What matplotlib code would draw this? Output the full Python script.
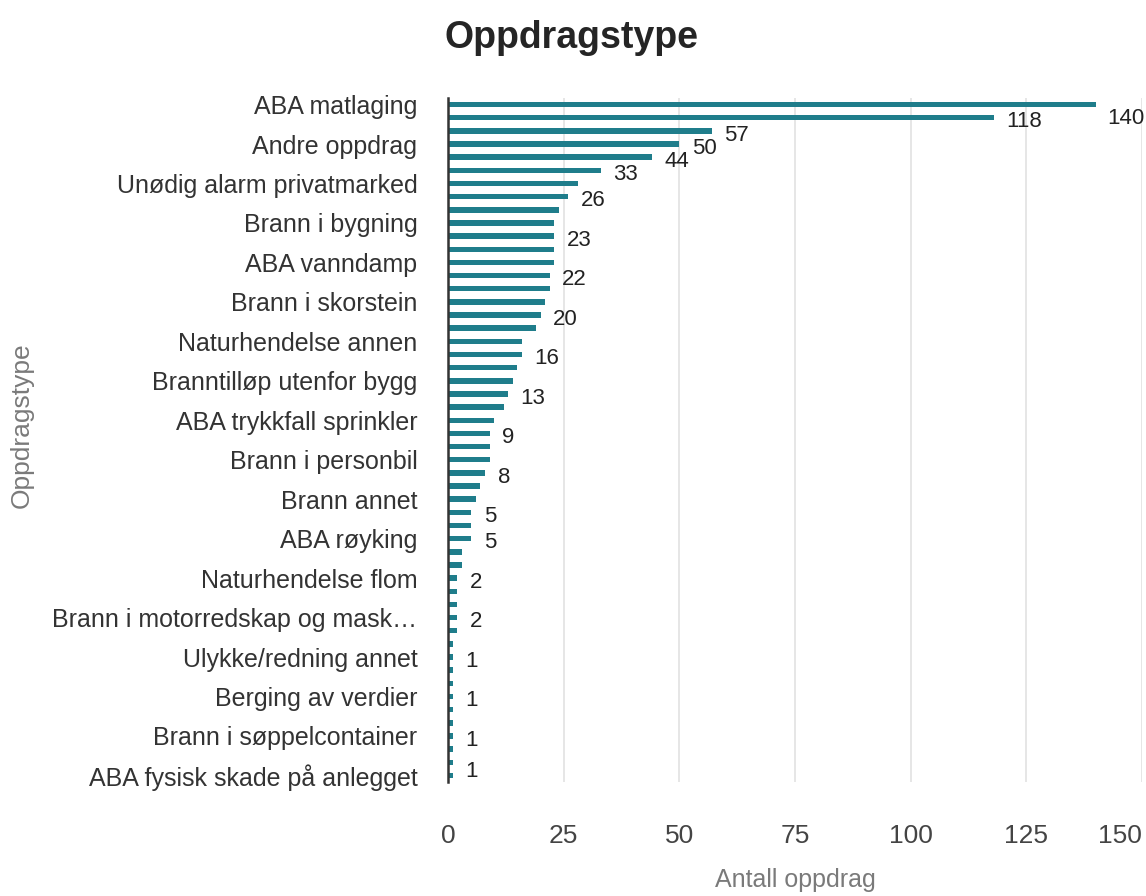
import numpy as np
import matplotlib.pyplot as plt

plt.rcParams['font.family'] = ['Liberation Sans', 'DejaVu Sans']

# antall oppdrag per type (sortert), bare hver tredje kategori har synlig navn
values = [140, 118, 57, 50, 44, 33, 28, 26, 24, 23, 23, 23, 23, 22, 22, 21, 20, 19,
          16, 16, 15, 14, 13, 12, 10, 9, 9, 9, 8, 7, 6, 5, 5, 5, 3, 3,
          2, 2, 2, 2, 2, 1, 1, 1, 1, 1, 1, 1, 1, 1, 1, 1]
shown_names = ['ABA matlaging', 'Andre oppdrag', 'Unødig alarm privatmarked',
               'Brann i bygning', 'ABA vanndamp', 'Brann i skorstein',
               'Naturhendelse annen', 'Branntilløp utenfor bygg',
               'ABA trykkfall sprinkler', 'Brann i personbil', 'Brann annet',
               'ABA røyking', 'Naturhendelse flom', 'Brann i motorredskap og mask…',
               'Ulykke/redning annet', 'Berging av verdier',
               'Brann i søppelcontainer', 'ABA fysisk skade på anlegget']
label_step = 3
# hvilke stolper som har dataetikett (resten er skjult pga overlapp)
labelled = [0, 1, 2, 3, 4, 5, 7, 10, 13, 16, 19, 22, 25, 28, 31, 33, 36, 39, 42, 45, 48, 51]
x_ticks = [0, 25, 50, 75, 100, 125, 150]

bar_color = '#1f7d8b'
text_color = '#333333'
axis_title_color = '#7a7a7a'

fig = plt.figure(figsize=(11.46, 8.96), dpi=100)
ax = fig.add_axes([448/1146, 1 - 782/896, (1142 - 448)/1146, (782 - 98)/896])

y = np.arange(len(values))
ax.barh(y, values, height=0.42, color=bar_color, zorder=3)

ax.set_ylim(len(values) - 0.5, -0.5)
ax.set_xlim(0, 150)

tick_pos = y[::label_step]
ax.set_yticks(tick_pos)
ax.set_yticklabels(shown_names, fontsize=18, color=text_color)
ax.set_xticks(x_ticks)
ax.set_xticklabels([str(t) for t in x_ticks], fontsize=19, color='#444444')
ax.get_xticklabels()[-1].set_horizontalalignment('right')  # siste etikett holdes innenfor kanten
ax.tick_params(axis='y', length=0, pad=22)
ax.tick_params(axis='x', length=0, pad=30)

ax.grid(axis='x', color='#e1e1e1', linewidth=1.2, zorder=0)
for s in ['top', 'right', 'bottom']:
    ax.spines[s].set_visible(False)
ax.spines['left'].set_color('#333333')
ax.spines['left'].set_linewidth(1.8)
ax.spines['left'].set_zorder(4)

for i in labelled:
    dy = -3
    dx = 9
    if i == 0:
        dy = -10
        dx = 8
    elif i == len(values) - 1:
        dy = 3
    ax.annotate(str(values[i]), (values[i], i), xytext=(dx, dy), textcoords='offset points',
                ha='left', va='center', fontsize=16, color='#222222', annotation_clip=False)

ax.set_xlabel('Antall oppdrag', fontsize=18, color=axis_title_color)
ax.set_ylabel('Oppdragstype', fontsize=19, color=axis_title_color)
ax.yaxis.set_label_coords(-(448 - 34)/694, (782 - 425)/684)
ax.xaxis.set_label_coords(0.5, -(868 - 782)/684)

fig.text(0.499, 1 - 38/896, 'Oppdragstype', fontsize=27, fontweight='bold',
         color='#252525', ha='center', va='center')

fig.savefig('out.png', dpi=100)
